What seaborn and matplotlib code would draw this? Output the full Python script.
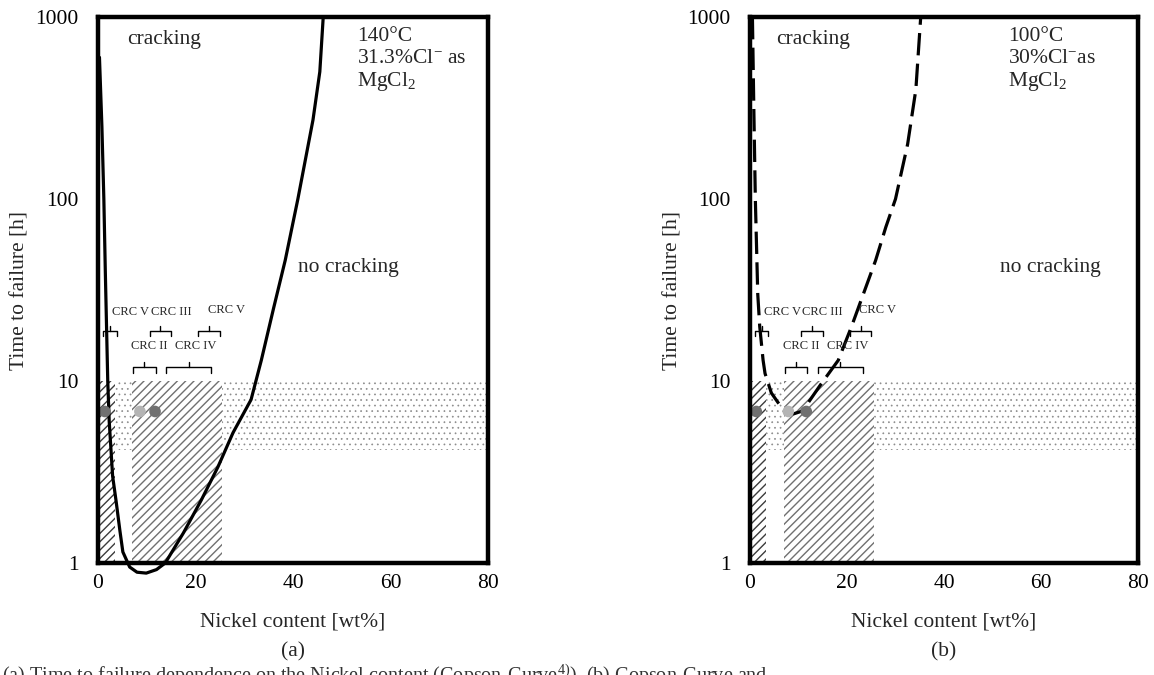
import numpy as np
import pandas as pd
import matplotlib
matplotlib.use("Agg")
import matplotlib.pyplot as plt
import seaborn as sns

sns.set_theme(style="white")
plt.rcParams['font.family'] = ['Liberation Serif', 'DejaVu Serif']
plt.rcParams['mathtext.fontset'] = 'custom'
plt.rcParams['mathtext.rm'] = 'Liberation Serif'
plt.rcParams['mathtext.it'] = 'Liberation Serif:italic'
plt.rcParams['hatch.linewidth'] = 1.0

# ---------------- data ----------------
# Panel (a) Copson curve, 140 C (solid)
curve_a_ni = [0.3, 0.8, 1.2, 1.5, 2.0, 2.3, 3.0, 3.7, 4.5, 5.1, 6.5, 8.0, 9.9, 12.0,
              13.8, 17.5, 21.2, 24.6, 27.7, 31.4, 33.5, 36.0, 38.4, 41.0, 44.1, 45.5, 46.2]
curve_a_t = [600, 250, 100, 40, 10, 6, 3, 2.2, 1.5, 1.15, 0.95, 0.89, 0.88, 0.92,
             1.0, 1.46, 2.22, 3.37, 5.2, 7.9, 13, 25, 46, 100, 272, 500, 1000]
# Panel (b) Copson curve, 100 C (dashed)
curve_b_ni = [0.5, 0.8, 1.1, 1.6, 2.0, 2.7, 3.1, 4.4, 5.8, 7.2, 9.0, 10.5, 11.4,
              14.5, 18.2, 20.9, 25.9, 28.0, 30.0, 32.5, 34.2, 35.2]
curve_b_t = [1000, 300, 100, 30, 20, 13, 11, 8.6, 7.6, 6.8, 6.6, 6.8, 7.2,
             9.5, 13, 19.8, 46, 70, 100, 200, 400, 1000]

# measured points (Ni content, time) with shade class
pts_a_ni = [1.4, 8.6, 11.7]
pts_b_ni = [1.3, 7.9, 11.6]
pts_t = [6.8, 6.8, 6.8]
pts_shade = ["dark", "light", "dark"]

# CRC class brackets
crc_labels = ["CRC V", "CRC III", "CRC V", "CRC II", "CRC IV"]
crc_x0 = [1.1, 10.6, 20.6, 7.2, 14.0]
crc_x1 = [3.8, 15.0, 25.0, 11.8, 23.2]
crc_label_x = [6.6, 15.0, 26.3, 10.5, 20.1]
crc_bracket_t = [18.8, 18.8, 18.8, 11.9, 11.9]
crc_label_t = [24.0, 24.0, 24.5, 15.6, 15.6]

# shaded regions
hatch_left = (0.0, 3.4)
hatch_right = (7.0, 25.5)
hatch_top = 10
dot_range_t = (4.2, 10)

xticks = [0, 20, 40, 60, 80]
yticks = [1, 10, 100, 1000]
ytick_labels = ["1", "10", "100", "1000"]

cond_a = ["140°C", "31.3%Cl$^{-}$ as", "MgCl$_2$"]
cond_b = ["100°C", "30%Cl$^{-}$as", "MgCl$_2$"]

# ---------------- figure ----------------
fig = plt.figure(figsize=(11.54, 6.75), dpi=100)
ax_a = fig.add_axes([98 / 1154, 1 - 563 / 675, 390 / 1154, 546 / 675])
ax_b = fig.add_axes([750 / 1154, 1 - 563 / 675, 388 / 1154, 546 / 675])

FS = 15.5


def brace(ax, x0, x1, t):
    xm = (x0 + x1) / 2
    k = 1.07
    ax.plot([x0, x0, x1, x1], [t / k, t, t, t / k], color="black", lw=1.0, zorder=4)
    ax.plot([xm, xm], [t, t * k], color="black", lw=1.0, zorder=4)


def panel(ax, ni, t, dashed, pts_ni, cond, nocrack_x, crack_x):
    ax.set_yscale("log")
    ax.set_xlim(0, 80)
    ax.set_ylim(1, 1000)
    # dotted band
    with plt.rc_context({"hatch.linewidth": 0.5}):
        ax.fill_between([0, 80], dot_range_t[0], dot_range_t[1], facecolor="none",
                        hatch="...", edgecolor="#8c8c8c", linewidth=0, zorder=1)
    # hatched bands
    ax.fill_between(list(hatch_left), 1, hatch_top, facecolor="white",
                    hatch="////", edgecolor="#3c3c3c", linewidth=0, zorder=2)
    ax.fill_between(list(hatch_right), 1, hatch_top, facecolor="white",
                    hatch="////", edgecolor="#707070", linewidth=0, zorder=2)

    df = pd.DataFrame({"ni": ni, "t": t})
    sns.lineplot(data=df, x="ni", y="t", ax=ax, sort=False, estimator=None,
                 color="black", lw=2.3, zorder=5, clip_on=False)
    if dashed:
        ax.lines[-1].set_dashes((7, 2.6))

    pdf = pd.DataFrame({"ni": pts_ni, "t": pts_t, "shade": pts_shade})
    sns.scatterplot(data=pdf, x="ni", y="t", hue="shade",
                    palette={"dark": "#707070", "light": "#b4b4b4"},
                    s=70, edgecolor="none", ax=ax, legend=False, zorder=6,
                    clip_on=False)

    for lab, x0, x1, lx, bt, lt in zip(crc_labels, crc_x0, crc_x1, crc_label_x,
                                       crc_bracket_t, crc_label_t):
        brace(ax, x0, x1, bt)
        ax.text(lx, lt, lab, fontsize=9, ha="center", va="center", zorder=7)

    ax.text(crack_x, 748, "cracking", fontsize=FS, ha="center", va="center")
    ax.text(nocrack_x, 42, "no cracking", fontsize=FS, ha="center", va="center")
    for txt, yy in zip(cond, [780, 590, 440]):
        ax.text(53.2, yy, txt, fontsize=FS, ha="left", va="center")

    ax.set_xticks(xticks)
    ax.set_yticks(yticks)
    ax.set_yticklabels(ytick_labels)
    ax.yaxis.set_minor_locator(matplotlib.ticker.NullLocator())
    ax.tick_params(axis="both", which="major", direction="in", length=9, width=1.5,
                   labelsize=FS, color="black", labelcolor="black", pad=8)
    ax.tick_params(axis="y", pad=14)
    for s in ax.spines.values():
        s.set_linewidth(3.2)
        s.set_color("black")
        s.set_zorder(8)
    ax.set_xlabel("Nickel content [wt%]", fontsize=FS, labelpad=14)
    ax.set_ylabel("Time to failure [h]", fontsize=FS)
    ax.yaxis.set_label_coords(-0.175, 0.5)
    ax.grid(False)


panel(ax_a, curve_a_ni, curve_a_t, False, pts_a_ni, cond_a, 51.3, 13.5)
panel(ax_b, curve_b_ni, curve_b_t, True, pts_b_ni, cond_b, 62.0, 13.0)

fig.text(293 / 1154, 1 - 652 / 675, "(a)", fontsize=FS, ha="center", va="center")
fig.text(944 / 1154, 1 - 652 / 675, "(b)", fontsize=FS, ha="center", va="center")
fig.text(2 / 1154, 1 - 676 / 675, "(a) Time to failure dependence on the Nickel content (Copson-Curve$^{4)}$), (b) Copson-Curve and",
         fontsize=FS - 1, ha="left", va="center", color="#333333")

fig.savefig("out.png", dpi=100)
